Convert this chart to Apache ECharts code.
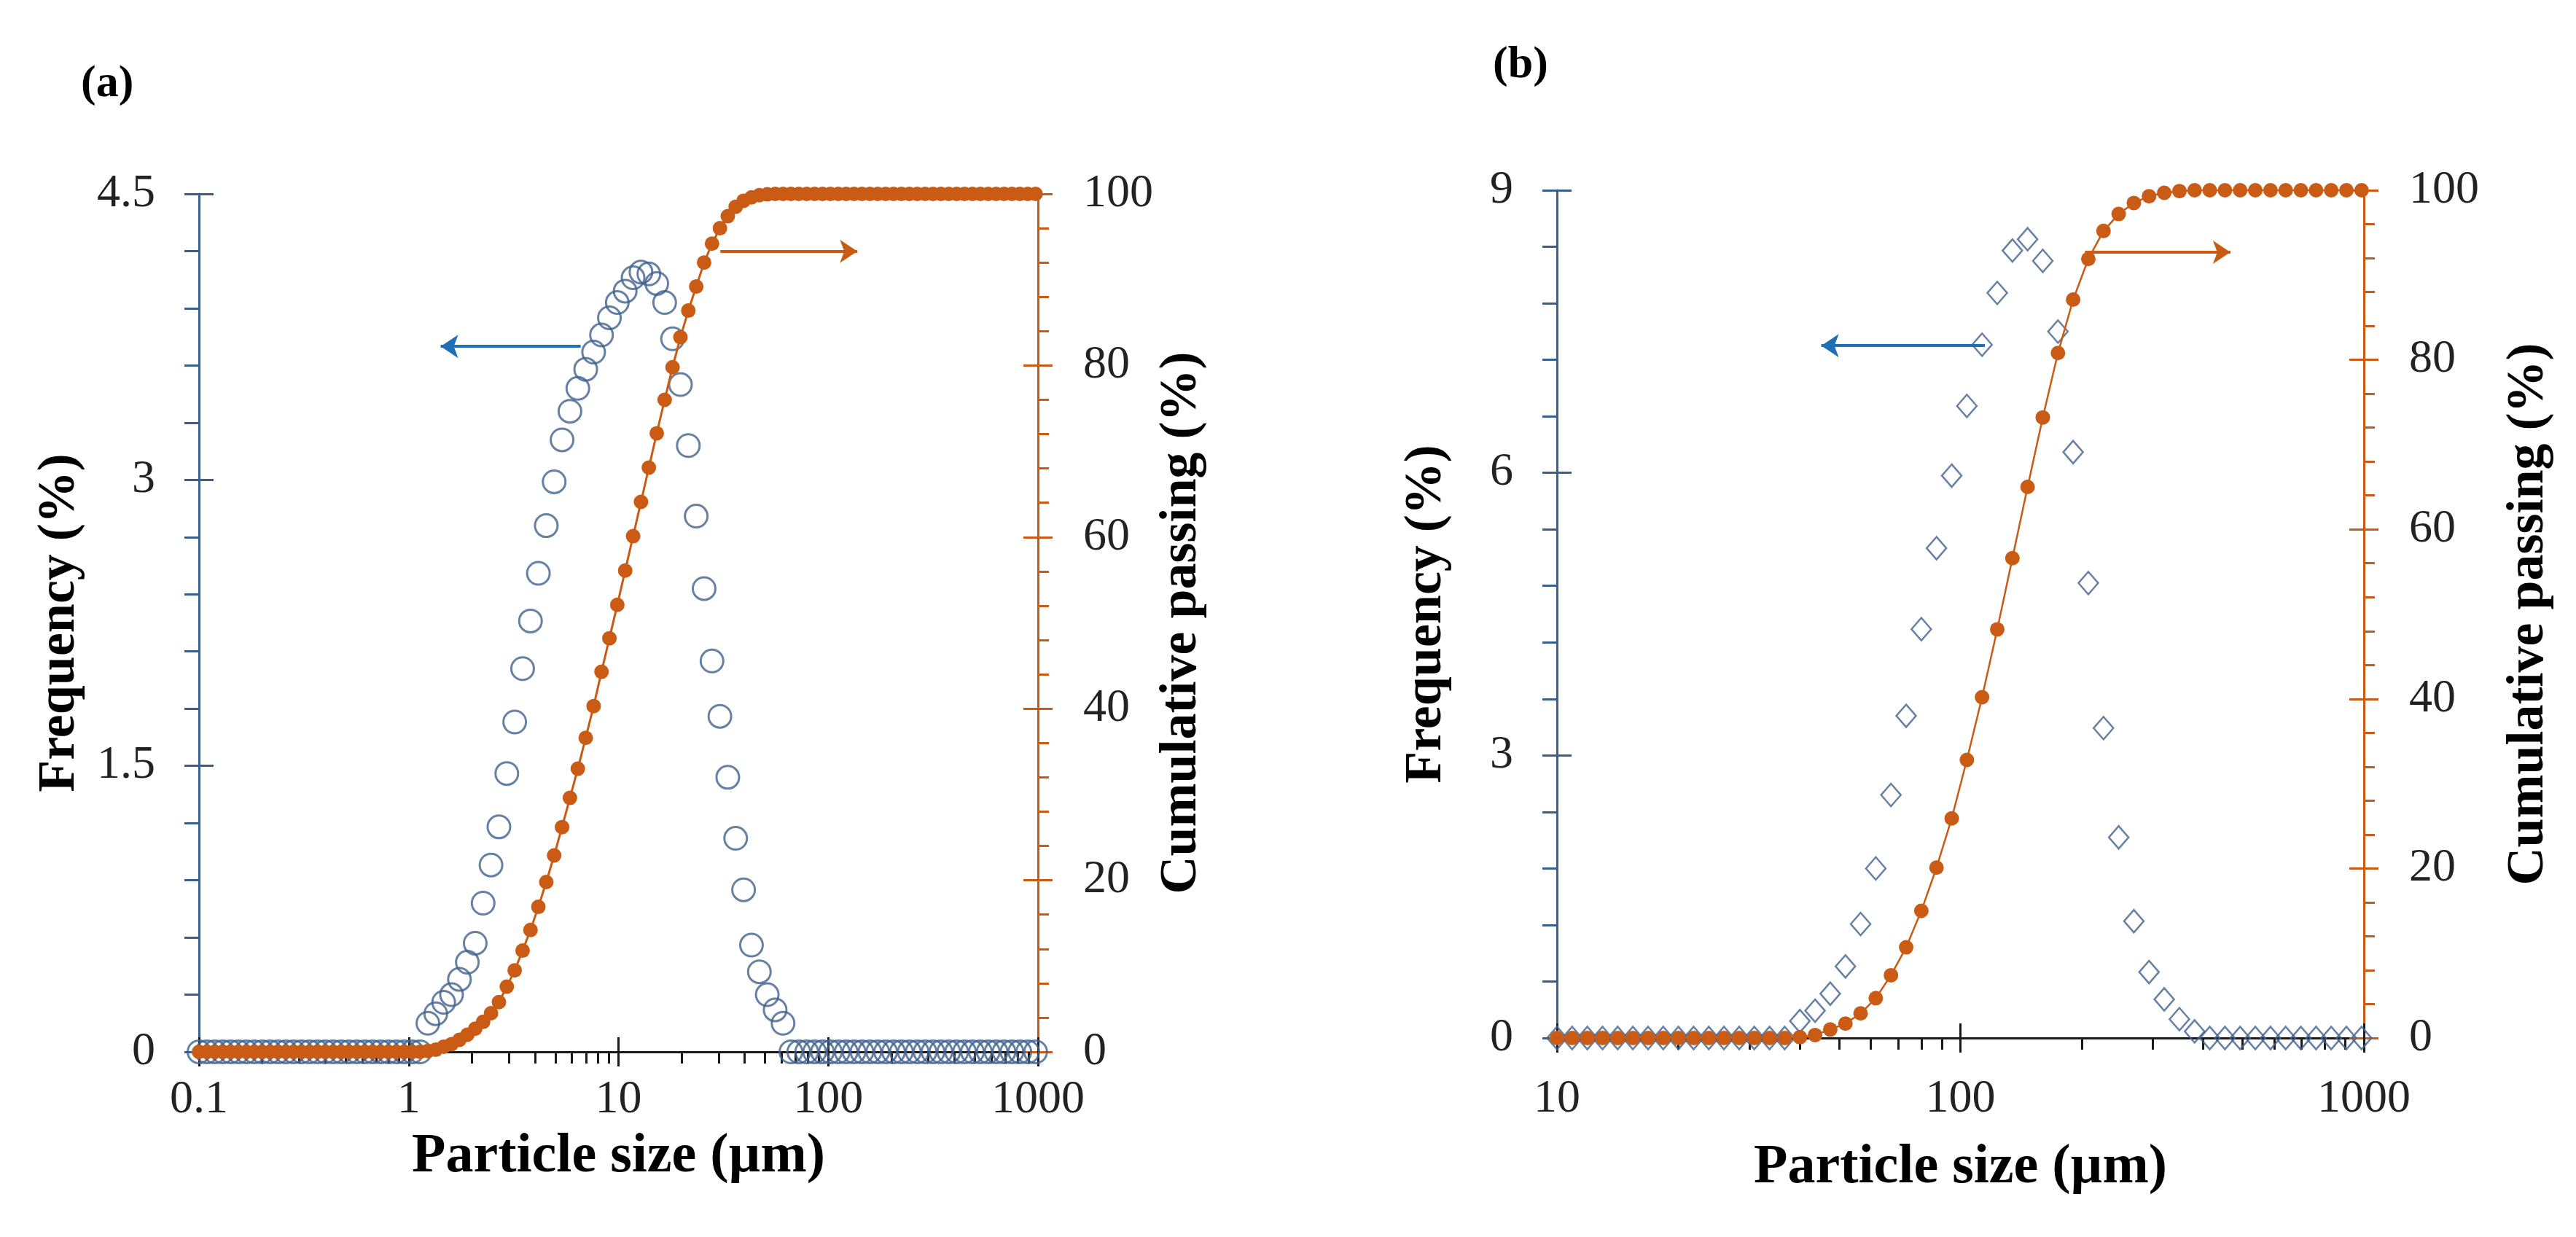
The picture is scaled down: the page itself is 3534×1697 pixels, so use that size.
<!DOCTYPE html>
<html>
<head>
<meta charset="utf-8">
<title>Particle size distribution</title>
<script src="https://cdn.jsdelivr.net/npm/echarts@6/dist/echarts.min.js"></script>
<style>
  html, body { margin: 0; padding: 0; background: #fff; }
  #chart { width: 3534px; height: 1697px; }
</style>
</head>
<body>
<div id="chart"></div>
<script>
// ---- panel (a) data: size bins (um), frequency (%), cumulative passing (%)
var sizesA = [
  0.1, 0.1091, 0.1189, 0.1297, 0.1414, 0.1542, 0.1682, 0.1834,
  0.2, 0.2181, 0.2378, 0.2594, 0.2828, 0.3084, 0.3364, 0.3668,
  0.4, 0.4362, 0.4757, 0.5187, 0.5657, 0.6169, 0.6727, 0.7336,
  0.8, 0.8724, 0.9514, 1.0375, 1.1314, 1.2338, 1.3454, 1.4672,
  1.6, 1.7448, 1.9027, 2.0749, 2.2627, 2.4675, 2.6909, 2.9344,
  3.2, 3.4896, 3.8055, 4.1499, 4.5255, 4.9351, 5.3817, 5.8688,
  6.4, 6.9793, 7.6109, 8.2998, 9.051, 9.8701, 10.764, 11.738,
  12.8, 13.959, 15.222, 16.6, 18.102, 19.74, 21.527, 23.475,
  25.6, 27.917, 30.444, 33.199, 36.204, 39.481, 43.054, 46.951,
  51.2, 55.834, 60.887, 66.398, 72.408, 78.961, 86.108, 93.901,
  102.4, 111.67, 121.77, 132.8, 144.82, 157.92, 172.22, 187.8,
  204.8, 223.34, 243.55, 265.59, 289.63, 315.84, 344.43, 375.61,
  409.6, 446.67, 487.1, 531.19, 579.25, 631.69, 688.86, 751.21,
  819.2, 893.34, 974.2
];
var freqA = [
  0, 0, 0, 0, 0, 0, 0, 0,
  0, 0, 0, 0, 0, 0, 0, 0,
  0, 0, 0, 0, 0, 0, 0, 0,
  0, 0, 0, 0, 0, 0.15, 0.20, 0.26,
  0.30, 0.38, 0.47, 0.57, 0.78, 0.98, 1.18, 1.46,
  1.73, 2.01, 2.26, 2.51, 2.76, 2.99, 3.21, 3.36,
  3.48, 3.58, 3.67, 3.76, 3.85, 3.93, 3.99, 4.06,
  4.09, 4.08, 4.03, 3.93, 3.74, 3.50, 3.18, 2.81,
  2.43, 2.05, 1.76, 1.44, 1.12, 0.85, 0.56, 0.42,
  0.30, 0.22, 0.15, 0, 0, 0, 0, 0,
  0, 0, 0, 0, 0, 0, 0, 0,
  0, 0, 0, 0, 0, 0, 0, 0,
  0, 0, 0, 0, 0, 0, 0, 0,
  0, 0, 0
];
var cumA = [
  0, 0, 0, 0, 0, 0, 0, 0,
  0, 0, 0, 0, 0, 0, 0, 0,
  0, 0, 0, 0, 0, 0, 0, 0,
  0, 0, 0, 0, 0, 0.1, 0.25, 0.6,
  0.9, 1.4, 2.0, 2.7, 3.5, 4.5, 5.8, 7.6,
  9.5, 11.8, 14.2, 16.9, 19.8, 22.9, 26.2, 29.6,
  33.0, 36.6, 40.3, 44.3, 48.2, 52.1, 56.1, 60.1,
  64.1, 68.1, 72.1, 76.0, 79.8, 83.3, 86.4, 89.2,
  92.0, 94.2, 96.0, 97.4, 98.5, 99.2, 99.6, 99.85,
  99.95, 100, 100, 100, 100, 100, 100, 100,
  100, 100, 100, 100, 100, 100, 100, 100,
  100, 100, 100, 100, 100, 100, 100, 100,
  100, 100, 100, 100, 100, 100, 100, 100,
  100, 100, 100
];

// ---- panel (b) data
var sizesB = [
  10, 10.905, 11.892, 12.968, 14.142, 15.422, 16.818, 18.34,
  20, 21.81, 23.784, 25.937, 28.284, 30.844, 33.636, 36.68,
  40, 43.62, 47.568, 51.874, 56.569, 61.688, 67.272, 73.36,
  80, 87.241, 95.137, 103.75, 113.14, 123.38, 134.54, 146.72,
  160, 174.48, 190.27, 207.49, 226.27, 246.75, 269.09, 293.44,
  320, 348.96, 380.55, 414.99, 452.55, 493.51, 538.17, 586.88,
  640, 697.93, 761.09, 829.98, 905.1, 987.0
];
var freqB = [
  0, 0, 0, 0, 0, 0, 0, 0,
  0, 0, 0, 0, 0, 0, 0, 0,
  0.18, 0.29, 0.47, 0.76, 1.21, 1.80, 2.58, 3.42,
  4.34, 5.20, 5.97, 6.71, 7.36, 7.91, 8.36, 8.48,
  8.25, 7.50, 6.22, 4.83, 3.29, 2.13, 1.24, 0.70,
  0.41, 0.20, 0.07, 0, 0, 0, 0, 0,
  0, 0, 0, 0, 0, 0
];
var cumB = [
  0, 0, 0, 0, 0, 0, 0, 0,
  0, 0, 0, 0, 0, 0, 0, 0,
  0.1, 0.35, 1.0, 1.7, 2.9, 4.7, 7.4, 10.7,
  15.0, 20.1, 25.9, 32.8, 40.2, 48.2, 56.6, 65.0,
  73.2, 80.8, 87.1, 91.9, 95.2, 97.2, 98.5, 99.3,
  99.7, 99.9, 100, 100, 100, 100, 100, 100,
  100, 100, 100, 100, 100, 100
];

// axis ticks
var minorTicksA = [0.2, 0.3, 0.4, 0.5, 0.6, 0.7, 0.8, 0.9, 2, 3, 4, 5, 6, 7, 8, 9,
  20, 30, 40, 50, 60, 70, 80, 90, 200, 300, 400, 500, 600, 700, 800, 900];
var minorTicksB = [20, 30, 40, 50, 60, 70, 80, 90, 200, 300, 400, 500, 600, 700, 800, 900];

// arrows [x1, x2, y]
var arrowFreqA = [6.6, 1.42, 3.70];
var arrowCumA = [30.6, 137.7, 93.3];
var arrowFreqB = [115, 45.2, 7.35];
var arrowCumB = [203.6, 466.8, 92.7];

var FONT = "'Liberation Serif', 'Times New Roman', serif";
var BLUE_AXIS = '#3a5f8e';
var BLUE_MARK = '#40628d';
var BLUE_ARROW = '#1f6fb8';
var ORANGE = '#c95b14';
var BLACK = '#1a1a1a';

function pairs(xs, ys) {
  return xs.map(function (x, i) { return [x, ys[i]]; });
}

function logFmt(v) {
  return String(Number(v.toPrecision(4)));
}

// build the 4 x axes of one panel
function xAxesFor(grid, min, max, minorTicks, labelMargin, nameGap) {
  var base = { type: 'log', logBase: 10, gridIndex: grid, min: min, max: max,
    splitLine: { show: false }, position: 'bottom' };
  return [
    Object.assign({}, base, {
      name: 'Particle size (µm)', nameLocation: 'middle', nameGap: nameGap,
      nameTextStyle: { fontFamily: FONT, fontSize: 76, fontWeight: 'bold', color: '#000' },
      axisLine: { lineStyle: { color: BLACK, width: 3 } },
      axisTick: { length: 20, lineStyle: { color: BLACK, width: 3 } },
      axisLabel: { fontFamily: FONT, fontSize: 64, color: '#222', margin: labelMargin, formatter: logFmt }
    }),
    Object.assign({}, base, {
      axisLine: { show: false },
      axisTick: { inside: true, length: 20, lineStyle: { color: BLACK, width: 3 } },
      axisLabel: { show: false }
    }),
    Object.assign({}, base, {
      axisLine: { show: false },
      axisTick: { length: 16, customValues: minorTicks, lineStyle: { color: BLACK, width: 3 } },
      axisLabel: { show: false }
    }),
    Object.assign({}, base, {
      position: 'top',
      axisLine: { lineStyle: { color: BLACK, width: 3 } },
      axisTick: { show: false },
      axisLabel: { show: false }
    })
  ];
}

// build the 4 y axes of one panel
function yAxesFor(grid, leftMax, leftInterval, leftGap, rightGap) {
  var left = { type: 'value', gridIndex: grid, min: 0, max: leftMax, interval: leftInterval,
    position: 'left', splitLine: { show: false } };
  var right = { type: 'value', gridIndex: grid, min: 0, max: 100, interval: 20,
    position: 'right', splitLine: { show: false } };
  var titleStyle = { fontFamily: FONT, fontSize: 72, fontWeight: 'bold', color: '#000' };
  var tickLabel = { fontFamily: FONT, fontSize: 64, color: '#222', margin: 60 };
  return [
    Object.assign({}, left, {
      name: 'Frequency (%)', nameLocation: 'middle', nameGap: leftGap, nameRotate: 90,
      nameTextStyle: titleStyle,
      axisLine: { show: true, lineStyle: { color: BLUE_AXIS, width: 3 } },
      axisTick: { show: true, length: 20, lineStyle: { color: BLUE_AXIS, width: 3 } },
      minorTick: { show: true, splitNumber: 5, length: 20, lineStyle: { color: BLUE_AXIS, width: 3 } },
      axisLabel: tickLabel
    }),
    Object.assign({}, left, {
      axisLine: { show: false },
      axisTick: { show: true, inside: true, length: 20, lineStyle: { color: BLUE_AXIS, width: 3 } },
      axisLabel: { show: false }
    }),
    Object.assign({}, right, {
      name: 'Cumulative passing (%)', nameLocation: 'middle', nameGap: rightGap, nameRotate: 90,
      nameTextStyle: titleStyle,
      axisLine: { show: true, lineStyle: { color: ORANGE, width: 3 } },
      axisTick: { show: true, length: 20, lineStyle: { color: ORANGE, width: 3 } },
      minorTick: { show: true, splitNumber: 5, length: 15, lineStyle: { color: ORANGE, width: 3 } },
      axisLabel: { fontFamily: FONT, fontSize: 64, color: '#222', margin: 62 }
    }),
    Object.assign({}, right, {
      axisLine: { show: false },
      axisTick: { show: true, inside: true, length: 20, lineStyle: { color: ORANGE, width: 3 } },
      axisLabel: { show: false }
    })
  ];
}

function arrow(a, color) {
  return {
    silent: true,
    symbol: ['none', 'arrow'],
    symbolSize: 24,
    label: { show: false },
    lineStyle: { color: color, width: 4, type: 'solid' },
    data: [[{ coord: [a[0], a[2]] }, { coord: [a[1], a[2]] }]]
  };
}

var chart = echarts.init(document.getElementById('chart'));

var option = {
  backgroundColor: '#fff',
  animation: false,
  title: [
    { text: '(a)', left: 106, top: 80,
      textStyle: { fontFamily: FONT, fontSize: 62, fontWeight: 'bold', color: '#000' } },
    { text: '(b)', left: 2043, top: 54,
      textStyle: { fontFamily: FONT, fontSize: 62, fontWeight: 'bold', color: '#000' } }
  ],
  grid: [
    { left: 273, top: 266, width: 1151, height: 1177, outerBoundsMode: 'none' },
    { left: 2136, top: 261, width: 1107, height: 1163, outerBoundsMode: 'none' }
  ],
  xAxis: [].concat(
    xAxesFor(0, 0.1, 1000, minorTicksA, 34, 106),
    xAxesFor(1, 10, 1000, minorTicksB, 52, 140)
  ),
  yAxis: [].concat(
    yAxesFor(0, 4.5, 1.5, 155, 160),
    yAxesFor(1, 9, 3, 143, 190)
  ),
  series: [
    {
      name: 'Frequency (a)', type: 'scatter', xAxisIndex: 0, yAxisIndex: 0,
      data: pairs(sizesA, freqA), symbol: 'circle', symbolSize: 31, clip: false,
      itemStyle: { color: 'rgba(255,255,255,0)', borderColor: BLUE_MARK, borderWidth: 3 },
      markLine: arrow(arrowFreqA, BLUE_ARROW)
    },
    {
      name: 'Cumulative (a)', type: 'line', xAxisIndex: 0, yAxisIndex: 2,
      data: pairs(sizesA, cumA), symbol: 'circle', symbolSize: 20, showAllSymbol: true, clip: false,
      lineStyle: { color: ORANGE, width: 3 },
      itemStyle: { color: ORANGE, borderWidth: 0 },
      markLine: arrow(arrowCumA, ORANGE)
    },
    {
      name: 'Frequency (b)', type: 'scatter', xAxisIndex: 4, yAxisIndex: 4,
      data: pairs(sizesB, freqB), symbol: 'diamond', symbolSize: [27, 31], clip: false,
      itemStyle: { color: 'rgba(255,255,255,0)', borderColor: BLUE_MARK, borderWidth: 2.5 },
      markLine: arrow(arrowFreqB, BLUE_ARROW)
    },
    {
      name: 'Cumulative (b)', type: 'line', xAxisIndex: 4, yAxisIndex: 6,
      data: pairs(sizesB, cumB), symbol: 'circle', symbolSize: 20, showAllSymbol: true, clip: false,
      lineStyle: { color: ORANGE, width: 2.5 },
      itemStyle: { color: ORANGE, borderWidth: 0 },
      markLine: arrow(arrowCumB, ORANGE)
    }
  ]
};

chart.setOption(option);
</script>
</body>
</html>
